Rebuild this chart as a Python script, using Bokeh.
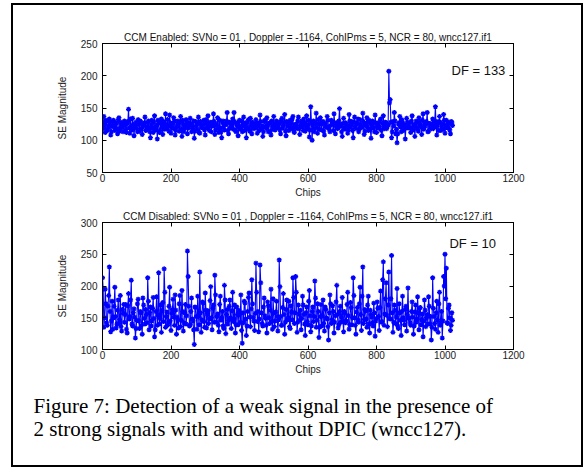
from bokeh.plotting import figure
from bokeh.layouts import column
from bokeh.models import LinearAxis, FixedTicker, Range1d, Label
from bokeh.embed import file_html
from bokeh.resources import INLINE

# ---------------- data ----------------
# samples at chips 0, 4, 8, ... (set a) and 2, 6, 10, ... (set b)
se_enabled_a = [
    126, 137, 112, 129, 118, 133, 108, 122, 131, 115, 127, 110, 135, 119, 124, 113,
    130, 117, 126, 148, 111, 121, 134, 107, 125, 118, 132, 114, 128, 109, 123, 136,
    116, 127, 119, 104, 131, 112, 138, 121, 102, 128, 115, 133, 109, 124, 141, 118,
    122, 139, 111, 126, 135, 108, 120, 130, 114, 137, 106, 125, 119, 132, 110, 127,
    134, 113, 121, 103, 129, 117, 136, 111, 124, 119, 131, 108, 126, 138, 115, 122,
    128, 141, 109, 123, 135, 112, 119, 104, 130, 116, 125, 143, 110, 127, 121, 133,
    143, 115, 124, 107, 131, 120, 113, 136, 122, 104, 128, 117, 134, 110, 126, 119,
    132, 111, 125, 139, 118, 106, 129, 121, 135, 113, 127, 108, 122, 137, 116, 130,
    119, 126, 110, 134, 123, 140, 107, 128, 115, 131, 120, 137, 112, 125, 118, 136,
    109, 127, 121, 133, 114, 138, 124, 105, 152, 100, 130, 118, 142, 111, 126, 135,
    116, 129, 108, 123, 137, 120, 113, 131, 125, 141, 110, 127, 119, 149, 122, 106,
    134, 117, 125, 111, 140, 121, 129, 104, 136, 118, 126, 113, 132, 120, 142, 109,
    124, 135, 115, 128, 103, 130, 119, 139, 112, 126, 121, 133, 107, 138, 118, 127,
    122, 207, 163, 104, 129, 143, 110, 96, 125, 137, 113, 128, 120, 102, 134, 119,
    127, 112, 138, 121, 106, 130, 117, 135, 124, 109, 141, 120, 128, 143, 114, 126,
    118, 133, 123, 152, 108, 129, 137, 115, 125, 140, 111, 131, 119, 127, 110, 128,
]
se_enabled_b = [
    118, 124, 131, 115, 122, 127, 113, 129, 120, 125, 117, 132, 114, 128, 121, 126,
    123, 112, 129, 119, 133, 116, 124, 120, 128, 113, 125, 130, 118, 122, 127, 115,
    121, 130, 113, 125, 119, 128, 116, 123, 131, 112, 126, 120, 129, 117, 124, 132,
    114, 127, 121, 118, 130, 115, 125, 122, 128, 117, 131, 113, 124, 129, 119, 123,
    126, 118, 130, 114, 123, 127, 112, 129, 120, 125, 116, 132, 119, 122, 128, 113,
    122, 129, 116, 125, 118, 131, 113, 127, 121, 124, 130, 115, 128, 119, 126, 117,
    129, 113, 126, 121, 117, 130, 124, 115, 127, 120, 132, 114, 123, 128, 118, 125,
    120, 127, 115, 129, 122, 113, 131, 118, 124, 126, 114, 130, 117, 125, 121, 128,
    125, 116, 131, 119, 127, 114, 129, 122, 117, 126, 133, 115, 124, 120, 130, 118,
    123, 130, 115, 127, 121, 118, 131, 116, 128, 124, 113, 126, 120, 132, 117, 125,
    128, 114, 126, 120, 131, 117, 123, 129, 115, 127, 122, 118, 130, 124, 113, 126,
    119, 127, 122, 116, 130, 124, 115, 128, 121, 126, 133, 117, 125, 120, 129, 114,
    126, 120, 131, 117, 124, 128, 113, 127, 122, 119, 130, 115, 126, 121, 128, 118,
    124, 158, 128, 113, 122, 130, 117, 110, 127, 121, 132, 115, 124, 119, 128, 122,
    119, 130, 116, 125, 122, 128, 114, 127, 120, 131, 117, 124, 129, 113, 126, 121,
    125, 118, 130, 121, 126, 115, 128, 122, 117, 131, 120, 124, 127, 116, 129, 123,
]
se_disabled_a = [
    213, 135, 195, 142, 168, 230, 128, 176, 150, 198, 134, 162, 141, 185, 129, 157,
    143, 171, 126, 188, 152, 209, 137, 164, 118, 146, 179, 133, 158, 124, 170, 140,
    155, 213, 131, 167, 145, 182, 120, 160, 138, 221, 149, 127, 174, 227, 135, 159,
    142, 198, 130, 163, 151, 186, 124, 147, 172, 136, 193, 129, 158, 140, 255, 168,
    139, 181, 145, 108, 166, 132, 152, 222, 127, 175, 144, 189, 134, 161, 148, 199,
    131, 170, 217, 143, 156, 128, 184, 150, 137, 201, 125, 163, 146, 178, 133, 190,
    148, 126, 167, 139, 155, 186, 110, 142, 173, 122, 160, 189, 136, 210, 151, 130,
    236, 144, 128, 233, 158, 137, 181, 149, 126, 169, 141, 195, 132, 157, 145, 176,
    129, 241, 152, 138, 188, 124, 163, 147, 176, 133, 159, 213, 141, 215, 127, 170,
    146, 131, 184, 155, 122, 167, 139, 193, 128, 160, 144, 208, 135, 172, 119, 152,
    137, 178, 129, 163, 148, 115, 186, 141, 169, 126, 153, 201, 134, 160, 143, 182,
    128, 157, 145, 190, 132, 174, 139, 213, 150, 124, 166, 143, 198, 130, 230, 147,
    161, 135, 184, 126, 155, 142, 173, 121, 149, 165, 130, 192, 144, 238, 156, 205,
    136, 222, 148, 248, 127, 170, 141, 196, 133, 158, 122, 184, 146, 163, 129, 197,
    150, 138, 175, 124, 159, 143, 183, 131, 166, 147, 120, 178, 136, 155, 183, 140,
    115, 213, 152, 132, 176, 127, 190, 143, 118, 215, 250, 228, 141, 170, 130, 158,
]
se_disabled_b = [
    195, 150, 172, 138, 185, 160, 145, 132, 168, 152, 140, 178, 147, 136, 163, 171,
    155, 132, 169, 148, 178, 140, 158, 151, 133, 172, 145, 160, 138, 181, 149, 163,
    142, 176, 158, 137, 165, 149, 131, 183, 154, 140, 170, 162, 144, 190, 152, 138,
    168, 145, 157, 179, 138, 162, 151, 134, 185, 146, 160, 142, 171, 153, 215, 137,
    160, 148, 131, 167, 152, 184, 139, 158, 147, 173, 135, 162, 156, 141, 177, 150,
    165, 143, 186, 152, 138, 171, 146, 160, 133, 178, 155, 140, 168, 150, 161, 144,
    170, 139, 155, 162, 143, 130, 158, 176, 148, 137, 182, 151, 164, 172, 145, 157,
    190, 160, 148, 205, 141, 167, 153, 138, 175, 150, 162, 144, 180, 136, 159, 152,
    147, 199, 138, 166, 155, 143, 178, 150, 136, 169, 147, 182, 158, 190, 143, 156,
    162, 149, 170, 140, 158, 144, 176, 153, 137, 167, 152, 181, 146, 160, 135, 171,
    153, 141, 167, 150, 136, 158, 172, 147, 160, 143, 175, 155, 139, 168, 151, 145,
    160, 142, 171, 153, 139, 166, 150, 185, 138, 159, 147, 172, 155, 184, 141, 163,
    148, 170, 140, 162, 151, 137, 158, 145, 175, 152, 166, 143, 210, 138, 180, 154,
    170, 149, 180, 158, 143, 162, 151, 137, 172, 146, 160, 150, 139, 168, 155, 149,
    142, 160, 151, 137, 170, 148, 158, 165, 139, 156, 145, 162, 150, 140, 168, 152,
    135, 165, 141, 158, 147, 172, 138, 160, 145, 200, 180, 142, 165, 150, 138, 146,
]
chips_a = [4 * i for i in range(len(se_enabled_a))]
chips_b = [4 * i + 2 for i in range(len(se_enabled_b))]


def merged(vals_a, vals_b):
    pairs = sorted(zip(chips_a + chips_b, vals_a + vals_b))
    return [c for c, _ in pairs], [v for _, v in pairs]


x_ticks = [0, 200, 400, 600, 800, 1000, 1200]
y_ticks_enabled = [50, 100, 150, 200, 250]
y_ticks_disabled = [100, 150, 200, 250, 300]

title_enabled = "CCM Enabled: SVNo = 01 , Doppler = -1164, CohIPms = 5, NCR = 80, wncc127.if1"
title_disabled = "CCM Disabled: SVNo = 01 , Doppler = -1164, CohIPms = 5, NCR = 80, wncc127.if1"
df_enabled = "DF = 133"
df_disabled = "DF = 10"
caption_lines = [
    "Figure 7: Detection of a weak signal in the presence of",
    "2 strong signals with and without DPIC (wncc127).",
]

SANS = "Liberation Sans"
SERIF = "Liberation Serif"
BLUE = "#0000ff"
W = 568


def style_axis(ax, labels=True):
    ax.major_tick_in = 4
    ax.major_tick_out = 0
    ax.minor_tick_line_color = None
    ax.axis_line_color = "black"
    ax.major_tick_line_color = "black"
    if labels:
        ax.major_label_text_font = SANS
        ax.major_label_text_font_size = "10px"
        ax.major_label_text_color = "#222222"
    else:
        ax.major_label_text_font_size = "1px"
        ax.major_label_text_color = None
        ax.major_label_standoff = 0


def panel(title, vals_a, vals_b, yr, yticks, df_text, df_x, df_y, height, top, bottom):
    xs, ys = merged(vals_a, vals_b)
    p = figure(width=W, height=height, x_range=Range1d(0, 1200), y_range=Range1d(*yr),
               output_backend="svg", toolbar_location=None,
               min_border_left=89, min_border_right=68,
               min_border_top=top, min_border_bottom=bottom)
    p.grid.visible = False
    p.outline_line_color = "black"
    p.background_fill_color = "white"
    p.border_fill_color = "white"

    p.xaxis.ticker = FixedTicker(ticks=x_ticks)
    p.yaxis.ticker = FixedTicker(ticks=yticks)
    for ax in p.xaxis + p.yaxis:
        style_axis(ax)
    p.xaxis.major_label_standoff = 1
    p.yaxis.major_label_standoff = 5
    p.xaxis.axis_label = "Chips"
    p.yaxis.axis_label = "SE Magnitude"
    for ax in p.xaxis + p.yaxis:
        ax.axis_label_text_font = SANS
        ax.axis_label_text_font_size = "10px"
        ax.axis_label_text_font_style = "normal"
        ax.axis_label_text_color = "#222222"
    p.xaxis.axis_label_standoff = 2
    p.yaxis.axis_label_standoff = 10

    top_ax = LinearAxis(ticker=FixedTicker(ticks=x_ticks))
    style_axis(top_ax, labels=False)
    p.add_layout(top_ax, "above")
    right_ax = LinearAxis(ticker=FixedTicker(ticks=yticks))
    style_axis(right_ax, labels=False)
    p.add_layout(right_ax, "right")

    p.title.text = title
    p.title.align = "center"
    p.title.text_font = SANS
    p.title.text_font_size = "10px"
    p.title.text_font_style = "normal"
    p.title.text_color = "#111111"
    p.title.standoff = 1

    p.line(xs, ys, line_color=BLUE, line_width=1.1)
    p.scatter(xs, ys, marker="asterisk", size=5, line_color=BLUE, line_width=1.3)

    p.add_layout(Label(x=df_x, y=df_y, text=df_text, text_font=SANS, text_font_size="13px",
                       text_baseline="middle", text_color="#111111"))
    return p


p1 = panel(title_enabled, se_enabled_a, se_enabled_b, (50, 250), y_ticks_enabled,
           df_enabled, 1019, 208, height=197, top=38, bottom=30)
p2 = panel(title_disabled, se_disabled_a, se_disabled_b, (100, 300), y_ticks_disabled,
           df_disabled, 1013, 267, height=177, top=20, bottom=30)

cap = figure(width=W, height=86, x_range=Range1d(0, W), y_range=Range1d(0, 86),
             x_axis_type=None, y_axis_type=None, output_backend="svg", toolbar_location=None,
             min_border=0, outline_line_color=None)
cap.frame_align = False
cap.grid.visible = False
cap.add_layout(Label(x=20, y=60, text=caption_lines[0], text_font=SERIF, text_font_size="21px",
                     text_baseline="middle", text_color="black"))
cap.add_layout(Label(x=20, y=37, text=caption_lines[1], text_font=SERIF, text_font_size="21px",
                     text_baseline="middle", text_color="black"))

layout = column(p1, p2, cap, styles={"border": "2px solid black", "box-sizing": "content-box",
                                     "margin-left": "11px", "margin-top": "3px"})

open("out.html", "w").write(file_html(layout, INLINE))
